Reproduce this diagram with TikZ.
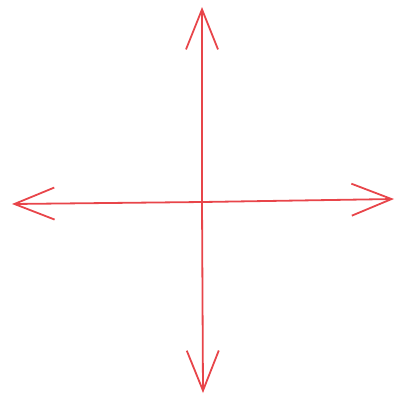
\documentclass[tikz,border=0pt]{standalone}
\usepackage{xcolor}
\usetikzlibrary{arrows.meta}
\definecolor{crossred}{HTML}{E8454A}
\tikzset{
  axisarrow/.style={crossred, -{Straight Barb[length=20pt, width=16pt]}, line width=0.9pt}
}
\begin{document}
\begin{tikzpicture}[x=0.5pt, y=-0.5pt]
  \useasboundingbox (0,0) rectangle (405,398);
  \coordinate (centre) at (202,202);
  \coordinate (east) at (394,199);
  \coordinate (west) at (12,204);
  \coordinate (north) at (202,7);
  \coordinate (south) at (203,393);
  \draw[axisarrow] (centre) -- (east);
  \draw[axisarrow] (centre) -- (west);
  \draw[axisarrow] (centre) -- (north);
  \draw[axisarrow] (centre) -- (south);
\end{tikzpicture}
\end{document}
